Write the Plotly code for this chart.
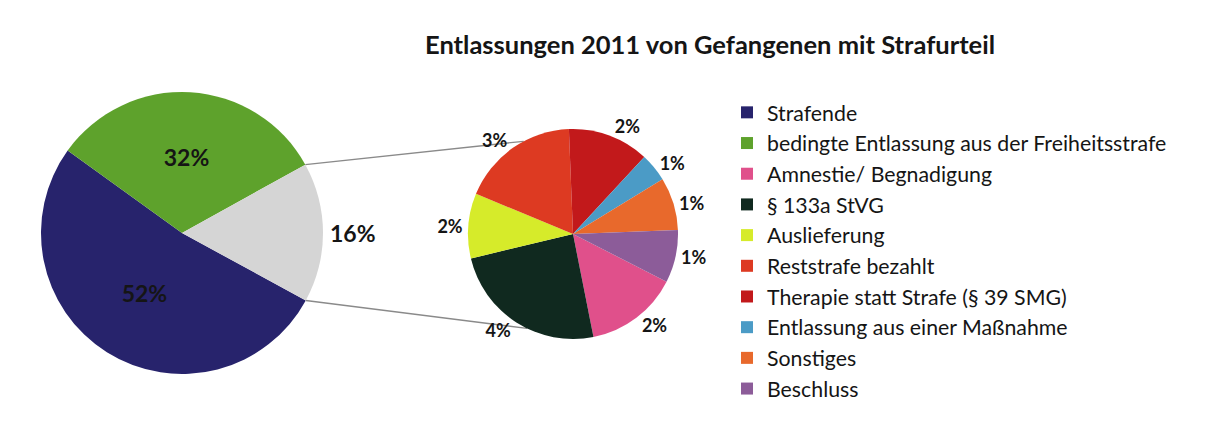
import math
import plotly.graph_objects as go

# ---------------- data ----------------
title_text = "Entlassungen 2011 von Gefangenen mit Strafurteil"

main_labels = ["Strafende", "bedingte Entlassung aus der Freiheitsstrafe", "Andere Entlassungsarten"]
main_values = [52, 32, 16]
main_colors = ["#27236C", "#5EA22C", "#D5D5D5"]

detail_labels = ["Amnestie/ Begnadigung", "§ 133a StVG", "Auslieferung", "Reststrafe bezahlt",
                 "Therapie statt Strafe (§ 39 SMG)", "Entlassung aus einer Maßnahme", "Sonstiges", "Beschluss"]
detail_values = [2.3, 3.9, 1.6, 2.9, 2.0, 0.7, 1.3, 1.3]
detail_colors = ["#E0508B", "#10291F", "#D6EB2A", "#DD3A22", "#C2191B", "#4B9BC6", "#E8692C", "#8C5C99"]

# ---------------- geometry (page pixels) ----------------
W, H = 1207, 423
OFF = 8  # page body margin of the html file
FONT = "Lato"
L_CX, L_CY, L_R = 182, 233, 141
R_CX, R_CY, R_R = 573, 234, 105
L_ROT = 118.6
R_ROT = 117.0
CONN_TOP_ANGLE, CONN_BOT_ANGLE = 332.0, 206.0


def px(x):
    return (x - OFF) / W


def py(y):
    return 1 - (y - OFF) / H


def domain(cx, cy, r):
    return dict(x=[px(cx - r), px(cx + r)], y=[py(cy + r), py(cy - r)])


def point(cx, cy, r, ang):
    a = math.radians(ang)
    return px(cx + r * math.sin(a)), py(cy - r * math.cos(a))


fig = go.Figure()

# main pie (left)
fig.add_trace(go.Pie(
    labels=main_labels, values=main_values, sort=False, direction="clockwise",
    rotation=L_ROT, domain=domain(L_CX, L_CY, L_R),
    marker=dict(colors=main_colors, line=dict(width=0)),
    texttemplate="<b>%{value}%</b>",
    textposition=["inside", "inside", "outside"],
    insidetextorientation="horizontal",
    textfont=dict(family=FONT, size=23, color="#151515"),
    showlegend=False, hoverinfo="label+value",
))

# detail pie (right) – also carries the legend (main categories with zero share)
leg_labels = main_labels[:2] + detail_labels
leg_values = [0, 0] + detail_values
leg_colors = main_colors[:2] + detail_colors
leg_text = ["", ""] + ["<b>%{value:.0f}%</b>"] * len(detail_values)

fig.add_trace(go.Pie(
    labels=leg_labels, values=leg_values, sort=False, direction="clockwise",
    rotation=R_ROT, domain=domain(R_CX, R_CY, R_R),
    marker=dict(colors=leg_colors, line=dict(width=0)),
    texttemplate=leg_text, textposition="outside",
    textfont=dict(family=FONT, size=18, color="#151515"),
    showlegend=True, hoverinfo="label+value",
))

# connector lines derived from slice geometry
grey_start = L_ROT + 360 * (main_values[0] + main_values[1]) / sum(main_values)
grey_end = L_ROT + 360
p1 = point(L_CX, L_CY, L_R, grey_start)
p2 = point(R_CX, R_CY, R_R, CONN_TOP_ANGLE)
p3 = point(L_CX, L_CY, L_R, grey_end)
p4 = point(R_CX, R_CY, R_R, CONN_BOT_ANGLE)
for a, b in [(p1, p2), (p3, p4)]:
    fig.add_shape(type="line", xref="paper", yref="paper", x0=a[0], y0=a[1], x1=b[0], y1=b[1],
                  line=dict(color="#8A8A8A", width=1.3), layer="below")

fig.update_layout(
    width=W, height=H, autosize=False,
    margin=dict(l=0, r=0, t=0, b=0),
    paper_bgcolor="white", plot_bgcolor="white",
    font=dict(family=FONT, color="#151515"),
    title=dict(text="<b>" + title_text + "</b>", x=px(710), y=py(45),
               xanchor="center", yanchor="middle",
               font=dict(family=FONT, size=25.5, color="#151515")),
    legend=dict(x=px(727), xanchor="left", y=py(92), yanchor="top",
                font=dict(family=FONT, size=21.3, color="#151515"),
                bgcolor="rgba(0,0,0,0)", traceorder="normal"),
)

fig.write_html("out.html")
